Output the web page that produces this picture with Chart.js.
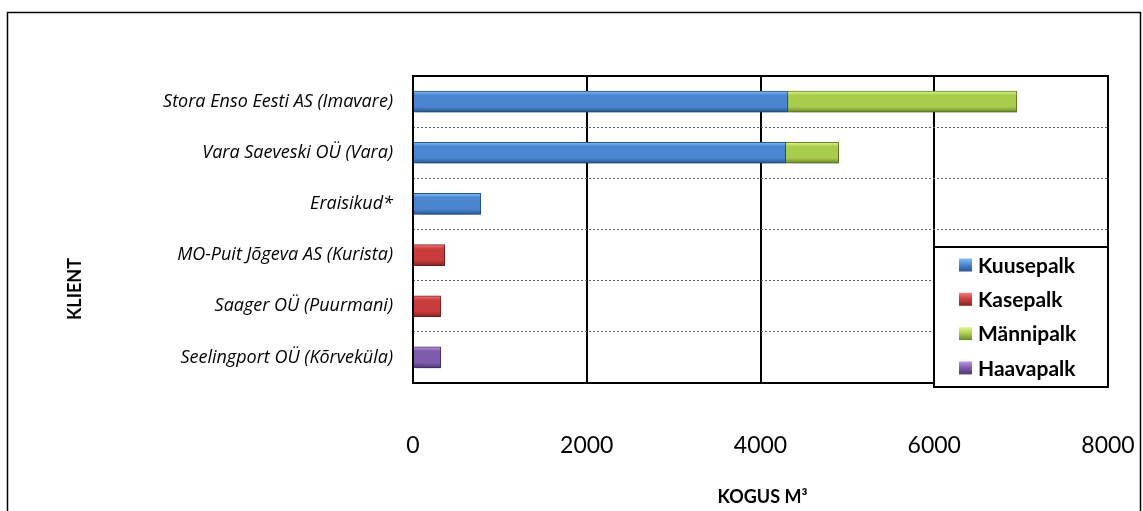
<!DOCTYPE html>
<html>
<head>
<meta charset="utf-8">
<script src="https://cdn.jsdelivr.net/npm/chart.js@4.4.1/dist/chart.umd.min.js"></script>
<style>
html, body { margin: 0; padding: 0; background: #fff; }
#wrap { position: relative; width: 1143px; height: 511px; }
</style>
</head>
<body>
<div id="wrap"><canvas id="klient_chart"></canvas></div>
<script>
// data (m3 per client)
const categories = [
    'Stora Enso Eesti AS (Imavare)',
    'Vara Saeveski OÜ (Vara)',
    'Eraisikud*',
    'MO-Puit Jõgeva AS (Kurista)',
    'Saager OÜ (Puurmani)',
    'Seelingport OÜ (Kõrveküla)'
]
const kuusepalk = [4315, 4290, 780, null, null, null]
const kasepalk = [null, null, null, 365, 320, null]
const mannipalk = [2635, 610, null, null, null, null]
const haavapalk = [null, null, null, null, null, 320]
const seriesNames = ['Kuusepalk', 'Kasepalk', 'Männipalk', 'Haavapalk']
const xTicks = [0, 2000, 4000, 6000, 8000]

// light top / mid / dark bottom for the bevel look
const shades = {
    Kuusepalk: ['#86bdf5', '#4a86cf', '#2a5790'],
    Kasepalk: ['#f07a7a', '#c93c3c', '#862525'],
    'Männipalk': ['#e2f88e', '#a8cc4c', '#6a872a'],
    Haavapalk: ['#bf9ae6', '#7d5bab', '#4f3774']
}

function bevel(stops) {
    return function (ctx) {
        const chart = ctx.chart
        if (!chart.chartArea) return stops[1]
        const y = chart.scales.y.getPixelForValue(ctx.dataIndex)
        const g = chart.ctx.createLinearGradient(0, y - 10.5, 0, y + 10.5)
        g.addColorStop(0, stops[0])
        g.addColorStop(0.2, stops[1])
        g.addColorStop(0.75, stops[1])
        g.addColorStop(1, stops[2])
        return g
    }
}

function makeSet(name, values) {
    return {
        label: name,
        data: values,
        backgroundColor: bevel(shades[name]),
        borderColor: shades[name][2],
        borderWidth: 1,
        barThickness: 21
    }
}

const bevelShadow = {
    id: 'bevelShadow',
    beforeDatasetsDraw(chart) {
        const c = chart.ctx
        c.save()
        c.shadowColor = 'rgba(0,0,0,0.28)'
        c.shadowBlur = 6
        c.shadowOffsetX = 2
        c.shadowOffsetY = 4
    },
    afterDatasetsDraw(chart) {
        chart.ctx.restore()
        const c = chart.ctx
        const a = chart.chartArea
        c.save()
        c.strokeStyle = '#000'
        c.lineWidth = 2
        c.strokeRect(a.left, a.top, a.right - a.left, a.bottom - a.top)
        c.restore()
    }
}

const frameAndText = {
    id: 'frameAndText',
    afterDraw(chart) {
        const c = chart.ctx
        const a = chart.chartArea
        c.save()
        // outer frame
        c.strokeStyle = '#000'
        c.lineWidth = 1.5
        c.strokeRect(7.5, 12.5, 1133, 510)

        // axis titles
        c.fillStyle = '#000'
        c.font = 'bold 18px Lato'
        c.textAlign = 'center'
        c.textBaseline = 'middle'
        c.fillText('KOGUS M³', (a.left + a.right) / 2 + 2, 497)
        c.save()
        c.translate(75, 289)
        c.rotate(-Math.PI / 2)
        c.fillText('KLIENT', 0, 0)
        c.restore()

        // legend box
        const lx = 934, ly = 247, lw = 174, lh = 140
        c.fillStyle = '#fff'
        c.fillRect(lx, ly, lw, lh)
        c.strokeStyle = '#000'
        c.lineWidth = 2
        c.strokeRect(lx, ly, lw, lh)
        c.font = 'bold 21px Lato'
        c.textAlign = 'left'
        chart.data.datasets.forEach((ds, i) => {
            const y = 265 + i * 34.3
            const st = shades[ds.label]
            const g = c.createLinearGradient(0, y - 6.5, 0, y + 6.5)
            g.addColorStop(0, st[0])
            g.addColorStop(0.5, st[1])
            g.addColorStop(1, st[2])
            c.fillStyle = g
            c.fillRect(959, y - 6.5, 13, 13)
            c.fillStyle = '#000'
            c.fillText(ds.label, 978, y + 1)
        })
        c.restore()
    }
}

const data_k = {
    labels: categories,
    datasets: [
        makeSet(seriesNames[0], kuusepalk),
        makeSet(seriesNames[1], kasepalk),
        makeSet(seriesNames[2], mannipalk),
        makeSet(seriesNames[3], haavapalk)
    ]
}

const config_k = {
    type: 'bar',
    data: data_k,
    options: {
        indexAxis: 'y',
        responsive: false,
        animation: false,
        layout: { padding: { top: 76, right: 35, bottom: 0, left: 0 } },
        plugins: {
            legend: { display: false },
            tooltip: { enabled: false }
        },
        scales: {
            x: {
                stacked: true,
                min: 0,
                max: 8000,
                afterFit(scale) {
                    scale.height = 128
                    scale.paddingLeft = 0
                    scale.paddingRight = 0
                },
                afterBuildTicks(scale) { scale.ticks = xTicks.map(v => ({ value: v })) },
                border: { display: false },
                grid: { color: '#000', lineWidth: 2, drawTicks: false },
                ticks: {
                    color: '#000',
                    padding: 49,
                    maxRotation: 0,
                    callback: v => String(v),
                    font: { family: 'Lato', size: 23 }
                }
            },
            y: {
                stacked: true,
                afterFit(scale) {
                    scale.width = 413
                    scale.paddingTop = 0
                    scale.paddingBottom = 0
                },
                border: { display: false, dash: [2, 2] },
                grid: {
                    offset: true,
                    color: '#666',
                    lineWidth: 1,
                    drawTicks: false
                },
                ticks: {
                    color: '#000',
                    padding: 20,
                    font: { family: 'Open Sans', size: 18, style: 'italic' }
                }
            }
        }
    },
    plugins: [bevelShadow, frameAndText]
}

const canvas = document.getElementById('klient_chart')
canvas.width = 1143
canvas.height = 511
canvas.style.width = '1143px'
canvas.style.height = '511px'

Promise.all([
    document.fonts.load('italic 18px "Open Sans"'),
    document.fonts.load('bold 16px Lato'),
    document.fonts.load('23px Lato')
]).catch(() => {}).then(() => {
    new Chart(canvas, config_k)
})
</script>
</body>
</html>
